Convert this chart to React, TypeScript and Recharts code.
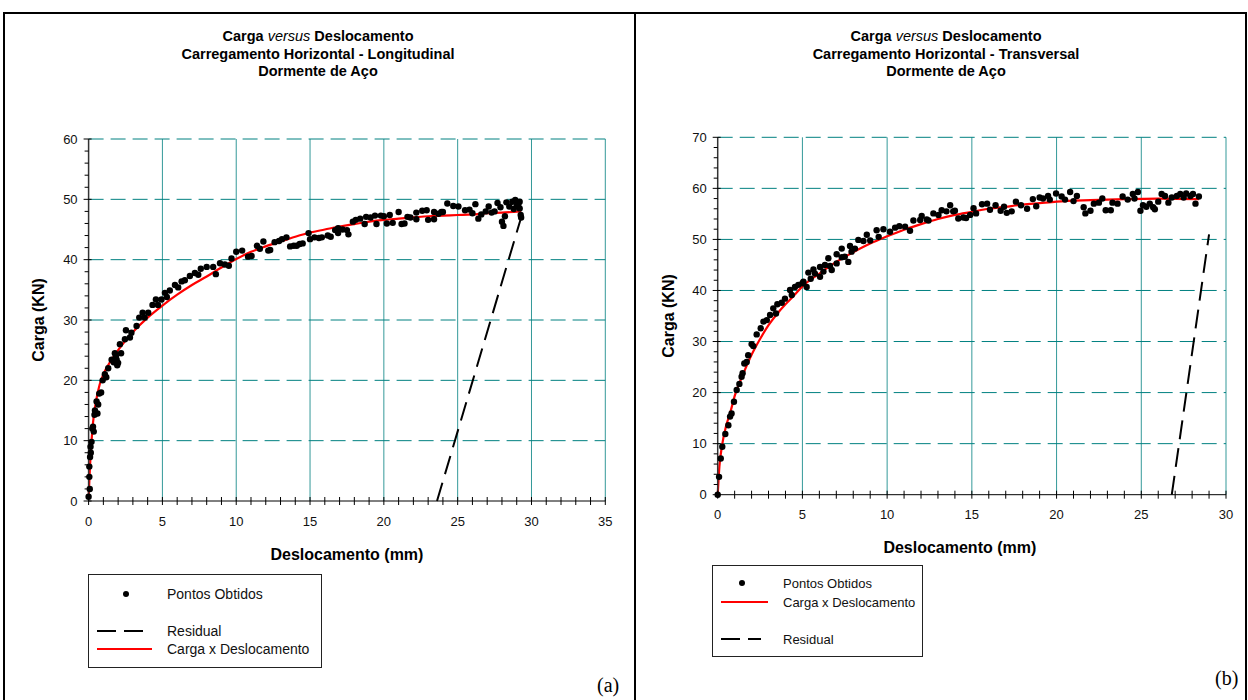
import React from "react";
import { ComposedChart, Scatter, Line, XAxis, YAxis, ReferenceLine } from "recharts";

// ── Data: (a) Longitudinal ──────────────────────────────────────────

const longPoints: [number, number][] = [
  [0, 0.7], [0.05, 4], [0.05, 5.7], [0.08, 2], [0.1, 7.3], [0.13, 9], [0.15, 8], [0.2, 9.8],
  [0.25, 12], [0.3, 12.3], [0.35, 11.5], [0.4, 14.3], [0.43, 15], [0.54, 16.5], [0.6, 14.5],
  [0.65, 16], [0.72, 17.8], [0.85, 18], [0.95, 20], [1.1, 21], [1.2, 20.5], [1.33, 22],
  [1.56, 23.4], [1.7, 23], [1.78, 24.5], [1.85, 24], [1.9, 23.4], [1.94, 22.5], [2.0, 22.9],
  [2.12, 26], [2.2, 24.5], [2.46, 26.8], [2.53, 28.3], [2.8, 27.1], [2.9, 27.9], [3.25, 29],
  [3.43, 30.4], [3.66, 31.2], [3.8, 30.4], [4.04, 31.2], [4.33, 32.5], [4.56, 33.4], [4.7, 32.5],
  [4.94, 33.4], [5.17, 34.5], [5.3, 33.8], [5.5, 34.9], [5.85, 35.8], [6.07, 35.4], [6.3, 36.4],
  [6.52, 36.6], [6.86, 37.3], [7.2, 37.8], [7.43, 37.5], [7.6, 38.5], [8, 38.8], [8.44, 38.8],
  [8.62, 37.6], [8.9, 39.4], [9.23, 39.2], [9.5, 39], [9.68, 40.2], [10.0, 41.3], [10.4, 41.5],
  [10.8, 40.5], [11.04, 40.6], [11.4, 42.3], [11.6, 41.8], [11.84, 43], [12.17, 41.5],
  [12.3, 41.6], [12.6, 42.9], [12.9, 43.1], [13.1, 43.4], [13.4, 43.7], [13.65, 42.2],
  [13.9, 42.3], [14.1, 42.3], [14.3, 42.6], [14.5, 42.7], [14.9, 44.4], [15.0, 43.4],
  [15.3, 43.7], [15.6, 43.6], [15.8, 43.7], [16.2, 44], [16.4, 43.8], [16.7, 44.9], [16.9, 45.2],
  [16.9, 44.4], [17.2, 45.0], [17.5, 44.9], [17.6, 44.2], [17.9, 46.3], [18.1, 46.6],
  [18.4, 46.8], [18.7, 45.9], [18.8, 47.1], [19.1, 47.0], [19.4, 47.3], [19.5, 45.9],
  [19.8, 47.3], [20.0, 47.2], [20.2, 46], [20.4, 47.4], [20.6, 46.1], [21.0, 47.9], [21.2, 45.9],
  [21.4, 46], [21.6, 47.1], [21.8, 47], [22.2, 47.8], [22.2, 46.7], [22.6, 48.1], [22.9, 48.2],
  [23.0, 46.6], [23.4, 47.9], [23.4, 46.7], [23.7, 47.6], [23.9, 47.9], [24.0, 47.9],
  [24.3, 49.3], [24.7, 48.9], [25.05, 48.8], [25.5, 48.2], [25.8, 48.3], [26.0, 47.7],
  [26.2, 49.2], [26.4, 46.8], [26.6, 47.5], [26.9, 48], [27.1, 48.8], [27.3, 47.8], [27.5, 48],
  [27.7, 49.4], [27.9, 48.7], [28.0, 46.3], [28.1, 45.6], [28.2, 47.2], [28.3, 49.5],
  [28.5, 48.8], [28.7, 49.6], [28.8, 48.4], [28.9, 49.9], [29.0, 48.9], [29.1, 49.1],
  [29.2, 48.5], [29.2, 49.6], [29.27, 47.4], [29.3, 47],
];

const longFitX = [0, 0.1, 0.2, 0.3, 0.5, 0.75, 1, 1.5, 2, 2.5, 3, 4, 5, 6, 7, 8, 9, 10, 11, 12, 13, 14, 15, 16, 17, 18, 19, 20, 21, 22, 23, 24, 25, 26, 27, 28, 29.3];
const longFitY = [0.5, 6, 10, 13, 16.5, 19.3, 21, 23.2, 25, 26.6, 28, 30.4, 32.4, 34.2, 35.8, 37.2, 38.7, 40.1, 41.3, 42.2, 43.0, 43.8, 44.5, 45.0, 45.5, 45.9, 46.3, 46.6, 46.8, 47.0, 47.2, 47.3, 47.4, 47.5, 47.7, 47.8, 48.0];

const longResidualX = [23.6, 29.3];
const longResidualY = [0, 47];

const longXMajor = [0, 5, 10, 15, 20, 25, 30, 35];
const longYMajor = [0, 10, 20, 30, 40, 50, 60];

// ── Data: (b) Transversal ───────────────────────────────────────────

const transPoints: [number, number][] = [
  [0, 0], [0.08, 3.5], [0.18, 7.1], [0.27, 9.4], [0.45, 11.9], [0.63, 13.6], [0.73, 15.3],
  [0.82, 15.9], [0.96, 18.2], [1.12, 20.5], [1.28, 21.7], [1.41, 23.1], [1.47, 23.8],
  [1.57, 25.7], [1.71, 26], [1.8, 27.3], [2.0, 29.5], [2.1, 29.1], [2.3, 31.4], [2.54, 32.6],
  [2.7, 33.9], [2.9, 34.2], [3.09, 35.2], [3.28, 36.5], [3.44, 35.5], [3.52, 37.3], [3.78, 37.6],
  [3.97, 38.4], [4.27, 40.1], [4.37, 39.1], [4.56, 40.7], [4.76, 41.1], [5.0, 41.4], [5.06, 41.7],
  [5.25, 40.7], [5.35, 43.5], [5.49, 42.3], [5.65, 44.1], [5.74, 43.3], [6.04, 42.7], [6.04, 44.6],
  [6.24, 43.7], [6.33, 45], [6.53, 46.3], [6.63, 44.8], [6.73, 44], [7.02, 47.1], [7.02, 45.3],
  [7.32, 48.2], [7.32, 46.5], [7.5, 46.6], [7.71, 45.6], [7.81, 48.7], [7.9, 47.6], [8.1, 48.2],
  [8.3, 49.9], [8.6, 49.7], [8.8, 50.9], [9.0, 49.8], [9.38, 51.8], [9.5, 50.5], [9.78, 52],
  [10.17, 51.5], [10.47, 52.3], [10.72, 52.6], [11.06, 52.5], [11.35, 51.7], [11.55, 53.7],
  [11.95, 53.8], [12.04, 54.6], [12.34, 53.9], [12.44, 53.7], [12.73, 55.1], [13.03, 54.8],
  [13.22, 55.7], [13.5, 55.5], [13.72, 56.7], [13.9, 55.5], [14.0, 55.6], [14.2, 54.1],
  [14.5, 54.3], [14.66, 54.2], [14.9, 54.8], [15.1, 56.1], [15.25, 55.1], [15.6, 56.9],
  [15.9, 57], [16.07, 55.8], [16.4, 56.7], [16.7, 55.6], [16.9, 56.4], [17.06, 55.2],
  [17.35, 55.5], [17.6, 57.4], [17.9, 56.7], [18.26, 56], [18.6, 57.9], [18.8, 56.5], [19.0, 58.2],
  [19.2, 58], [19.5, 58.5], [19.6, 57.8], [19.97, 59], [20.3, 58.4], [20.5, 57.8], [20.8, 59.3],
  [21.0, 57.5], [21.2, 58.5], [21.6, 56.3], [21.7, 55.1], [22.0, 55.6], [22.2, 57], [22.5, 57.2],
  [22.7, 58], [22.9, 55.7], [23.2, 55.7], [23.3, 57.2], [23.6, 57], [23.9, 58.4], [24.2, 57.8],
  [24.5, 58.9], [24.6, 58], [24.8, 59.3], [24.95, 55.6], [25.1, 56.7], [25.3, 56.4], [25.5, 57],
  [25.7, 56.3], [25.8, 55.9], [26.0, 57.4], [26.2, 58.9], [26.4, 58.5], [26.6, 57.2], [26.8, 58.2],
  [27.1, 58.5], [27.3, 58.9], [27.5, 58.2], [27.65, 59], [27.9, 58.5], [28.05, 58.9], [28.2, 57],
  [28.4, 58.4],
];

const transFitX = [0, 0.1, 0.25, 0.5, 0.75, 1, 1.5, 2, 2.5, 3, 3.5, 4, 4.5, 5, 6, 7, 8, 9, 10, 11, 12, 13, 14, 15, 16, 17, 18, 19, 20, 22, 24, 26, 28.4];
const transFitY = [0, 5.5, 9.5, 13.5, 16.2, 19.3, 23.6, 27.4, 30.5, 33.2, 35.4, 37.3, 39, 40.8, 43.3, 45.6, 47.5, 49.2, 50.6, 51.9, 53.0, 54.0, 54.8, 55.4, 56.0, 56.4, 56.8, 57.1, 57.4, 57.7, 57.9, 58.0, 57.9];

const transResidualX = [26.8, 29.0];
const transResidualY = [0, 51];

const transXMajor = [0, 5, 10, 15, 20, 25, 30];
const transYMajor = [0, 10, 20, 30, 40, 50, 60, 70];

const titleLines = ["Carregamento Horizontal - Longitudinal", "Carregamento Horizontal - Transversal"];
const seriesNames = { points: "Pontos Obtidos", fit: "Carga x Deslocamento", residual: "Residual" };

// ── Helpers ─────────────────────────────────────────────────────────

const FONT = '"Liberation Sans", Arial, Helvetica, sans-serif';
const SERIF = '"Liberation Serif", "Times New Roman", serif';
const TEAL = "#008080";

const toRows = (xs: number[], ys: number[]) => xs.map((x, i) => ({ x, y: ys[i] }));
const pairRows = (pts: [number, number][]) => pts.map(([x, y]) => ({ x, y }));

// minor ticks between majors
function subdivide(majors: number[], step: number) {
  const out: number[] = [];
  const last = majors[majors.length - 1];
  for (let v = majors[0]; v <= last + 1e-9; v += step) out.push(Math.round(v * 100) / 100);
  return out;
}

function XTick(props: any, majors: number[]) {
  const { x, y, payload } = props;
  const major = majors.includes(payload.value);
  return (
    <g>
      <line x1={x} x2={x} y1={y - 4} y2={y + 4} stroke="#000" />
      {major && (
        <text x={x} y={y + 20} textAnchor="middle" dominantBaseline="central" fontSize={13} fontFamily={FONT} fill="#111">
          {payload.value}
        </text>
      )}
    </g>
  );
}

function YTick(props: any, majors: number[]) {
  const { x, y, payload } = props;
  const major = majors.includes(payload.value);
  return (
    <g>
      <line x1={major ? x - 5 : x - 4} x2={major ? x + 3 : x} y1={y} y2={y} stroke="#000" />
      {major && (
        <text x={x - 11} y={y} textAnchor="end" dominantBaseline="central" fontSize={13} fontFamily={FONT} fill="#111">
          {payload.value}
        </text>
      )}
    </g>
  );
}

type LegendKind = "dot" | "fit" | "residual";

interface LegendProps {
  left: number;
  top: number;
  width: number;
  height: number;
  fontSize: number;
  textX: number;
  items: { kind: LegendKind; y: number }[];
}

function LegendBox({ left, top, width, height, fontSize, textX, items }: LegendProps) {
  const dotX = textX - 41;
  return (
    <svg style={{ position: "absolute", left, top }} width={width} height={height}>
      <rect x={0.5} y={0.5} width={width - 1} height={height - 1} fill="#fff" stroke="#222" />
      {items.map((it) => (
        <g key={it.kind}>
          {it.kind === "dot" && <circle cx={dotX} cy={it.y} r={3} fill="#000" />}
          {it.kind === "fit" && <line x1={9} x2={textX - 15} y1={it.y} y2={it.y} stroke="#ff0000" strokeWidth={2} />}
          {it.kind === "residual" && <line x1={9} x2={textX - 22} y1={it.y} y2={it.y} stroke="#000" strokeWidth={2} strokeDasharray="19 8" />}
          <text x={textX} y={it.y} dominantBaseline="central" fontSize={fontSize} fontFamily={FONT} fill="#111">
            {it.kind === "dot" ? seriesNames.points : it.kind === "fit" ? seriesNames.fit : seriesNames.residual}
          </text>
        </g>
      ))}
    </svg>
  );
}

interface PanelProps {
  left: number;
  width: number;
  margin: { top: number; right: number; bottom: number; left: number };
  points: [number, number][];
  fitX: number[];
  fitY: number[];
  resX: number[];
  resY: number[];
  xMajor: number[];
  yMajor: number[];
  yTitleX: number;
  xTitleDx: number;
}

function Panel({ left, width, margin, points, fitX, fitY, resX, resY, xMajor, yMajor, yTitleX, xTitleDx }: PanelProps) {
  const xMax = xMajor[xMajor.length - 1];
  const yMax = yMajor[yMajor.length - 1];
  const xTicks = subdivide(xMajor, 1);
  const yTicks = subdivide(yMajor, 2);

  return (
    <div style={{ position: "absolute", left, top: 0 }}>
      <ComposedChart width={width} height={700} margin={margin}>
        <XAxis
          dataKey="x"
          type="number"
          domain={[0, xMax]}
          ticks={xTicks}
          interval={0}
          tickSize={0}
          tickMargin={0}
          tickLine={false}
          height={30}
          axisLine={{ stroke: "#000" }}
          tick={(p: any) => XTick(p, xMajor)}
          label={{
            content: (p: any) => {
              const vb = p.viewBox || {};
              const cx = vb.x + vb.width / 2 + xTitleDx;
              return (
                <text x={cx} y={vb.y + 53} textAnchor="middle" dominantBaseline="central" fontSize={16} fontWeight="bold" fontFamily={FONT} fill="#000">
                  Deslocamento (mm)
                </text>
              );
            },
          }}
        />
        <YAxis
          dataKey="y"
          type="number"
          domain={[0, yMax]}
          ticks={yTicks}
          interval={0}
          width={60}
          tickSize={0}
          tickMargin={0}
          tickLine={false}
          axisLine={{ stroke: "#333", strokeWidth: 1.5 }}
          tick={(p: any) => YTick(p, yMajor)}
          label={{
            content: (p: any) => {
              const vb = p.viewBox || {};
              const cy = vb.y + vb.height / 2;
              return (
                <text x={yTitleX} y={cy} transform={`rotate(-90 ${yTitleX} ${cy})`} textAnchor="middle" dominantBaseline="central" fontSize={16} fontWeight="bold" fontFamily={FONT} fill="#000">
                  Carga (KN)
                </text>
              );
            },
          }}
        />
        {xMajor.slice(1).map((v) => (
          <ReferenceLine key={`vx${v}`} x={v} stroke={TEAL} strokeOpacity={0.8} strokeWidth={1} />
        ))}
        {yMajor.slice(1).map((v) => (
          <ReferenceLine key={`hy${v}`} y={v} stroke={TEAL} strokeWidth={1} strokeDasharray="15 7" />
        ))}
        <Scatter
          name={seriesNames.points}
          data={pairRows(points)}
          dataKey="y"
          isAnimationActive={false}
          shape={(p: any) => <circle cx={p.cx} cy={p.cy} r={3.2} fill="#000" />}
        />
        <Line
          name={seriesNames.fit}
          data={toRows(fitX, fitY)}
          dataKey="y"
          type="monotone"
          stroke="#ff0000"
          strokeWidth={2.2}
          dot={false}
          activeDot={false}
          isAnimationActive={false}
        />
        <Line
          name={seriesNames.residual}
          data={toRows(resX, resY)}
          dataKey="y"
          type="linear"
          stroke="#000"
          strokeWidth={2}
          strokeDasharray="19 9"
          dot={false}
          activeDot={false}
          isAnimationActive={false}
        />
      </ComposedChart>
    </div>
  );
}

function Title({ cx, line }: { cx: number; line: string }) {
  return (
    <div
      style={{
        position: "absolute",
        left: cx - 250,
        width: 500,
        top: 28,
        textAlign: "center",
        fontFamily: FONT,
        fontWeight: "bold",
        fontSize: 14.5,
        lineHeight: "17.5px",
        color: "#000",
      }}
    >
      <div>
        Carga <span style={{ fontStyle: "italic", fontWeight: "normal" }}>versus</span> Deslocamento
      </div>
      <div>{line}</div>
      <div>Dormente de Aço</div>
    </div>
  );
}

export default function App() {
  return (
    <div style={{ position: "absolute", left: 0, top: 0, width: 1248, height: 700, background: "#fff", overflow: "hidden" }}>
      <div style={{ position: "absolute", left: 3, top: 12, width: 1240, height: 720, border: "2px solid #000" }} />
      <div style={{ position: "absolute", left: 634, top: 12, width: 2, height: 720, background: "#000" }} />

      <Title cx={318} line={titleLines[0]} />
      <Title cx={946} line={titleLines[1]} />

      <Panel
        left={0}
        width={630}
        margin={{ top: 139, right: 24.7, bottom: 169, left: 28.6 }}
        points={longPoints}
        fitX={longFitX}
        fitY={longFitY}
        resX={longResidualX}
        resY={longResidualY}
        xMajor={longXMajor}
        yMajor={longYMajor}
        yTitleX={38.3}
        xTitleDx={0}
      />
      <Panel
        left={636}
        width={612}
        margin={{ top: 137.3, right: 22, bottom: 175.3, left: 21.7 }}
        points={transPoints}
        fitX={transFitX}
        fitY={transFitY}
        resX={transResidualX}
        resY={transResidualY}
        xMajor={transXMajor}
        yMajor={transYMajor}
        yTitleX={32.3}
        xTitleDx={-12}
      />

      <LegendBox
        left={88}
        top={574}
        width={234}
        height={94}
        fontSize={14}
        textX={79}
        items={[
          { kind: "dot", y: 20 },
          { kind: "residual", y: 57 },
          { kind: "fit", y: 75 },
        ]}
      />
      <LegendBox
        left={712}
        top={565}
        width={211}
        height={92}
        fontSize={13}
        textX={71}
        items={[
          { kind: "dot", y: 18 },
          { kind: "fit", y: 37 },
          { kind: "residual", y: 74 },
        ]}
      />

      <div style={{ position: "absolute", left: 597, top: 674, fontFamily: SERIF, fontSize: 20 }}>(a)</div>
      <div style={{ position: "absolute", left: 1215, top: 667, fontFamily: SERIF, fontSize: 20 }}>(b)</div>
    </div>
  );
}
